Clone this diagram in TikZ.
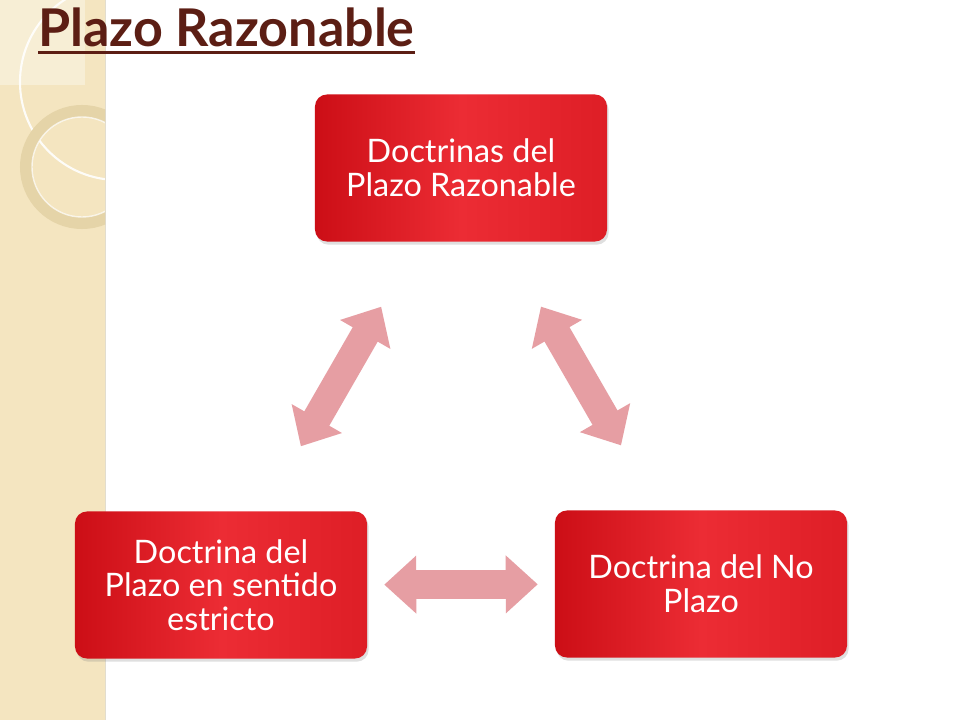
\documentclass[tikz,border=0pt]{standalone}
\usepackage{fontspec}
\setmainfont{Lato}
\usepackage{tikz}
\usetikzlibrary{arrows.meta, shadows}
\definecolor{boxred}{RGB}{204,14,22}
\definecolor{boxright}{RGB}{222,30,38}
\definecolor{boxlight}{RGB}{236,44,52}
\definecolor{linkpink}{RGB}{230,158,163}
\definecolor{titlebrown}{RGB}{92,30,20}
\definecolor{stripbeige}{RGB}{244,229,192}
\definecolor{ringtan}{RGB}{229,212,168}

\begin{document}
\begin{tikzpicture}
          [
            x=0.025cm, y=-0.025cm,
            doctrine/.style={rounded corners=0.3cm,minimum width=7.3cm,minimum height=3.675cm,
              left color=boxred,right color=boxright,middle color=boxlight,
              text=white,align=center,font=\fontsize{23}{24}\selectfont,
              drop shadow={opacity=0.25,shadow xshift=0.04cm,shadow yshift=-0.08cm}},
            link/.style={line width=0.72cm,linkpink,
              {Triangle[length=0.8cm,width=1.4cm]}-{Triangle[length=0.8cm,width=1.4cm]},
              shorten <=4cm,shorten >=4cm}
          ]
          \useasboundingbox (0,0) rectangle (960,720);
          \fill[white] (0,0) rectangle (960,720);
          % left strip
          \fill[stripbeige] (0,0) rectangle (105,720);
          \fill[white,opacity=0.35] (0,0) rectangle (85,85);
          \begin{scope}
            \clip (0,0) rectangle (105,720);
            \draw[white,line width=1.5pt,opacity=0.9] (118,82) circle [radius=2.45cm];
            \draw[ringtan,line width=0.3cm] (82,167) circle [radius=1.4cm];
            \draw[white,line width=1pt,opacity=0.7] (82,167) circle [radius=1.25cm];
          \end{scope}
          \draw[ringtan!80!black,opacity=0.4] (105,0) -- (105,720);
          % title
          \node[anchor=base west,inner sep=0,text=titlebrown,font=\fontsize{37}{44}\selectfont\bfseries]
            (title) at (38,47) {Plazo Razonable};
          \draw[titlebrown,line width=2.2pt]
            ([yshift=-4pt]title.base west) -- ([yshift=-4pt]title.base east);
          % doctrines
          \node[doctrine] (razonable) at (461,168) {Doctrinas del\\Plazo Razonable};
          \node[doctrine] (estricto) at (221,585) {Doctrina del\\Plazo en sentido\\estricto};
          \node[doctrine] (noplazo) at (701,584) {Doctrina del No\\Plazo};
          % links
          \draw[link] (razonable.center) -- (estricto.center);
          \draw[link] (razonable.center) -- (noplazo.center);
          \draw[link,shorten <=4.08cm,shorten >=4.08cm] (estricto.center) -- (noplazo.center);
\end{tikzpicture}
\end{document}
